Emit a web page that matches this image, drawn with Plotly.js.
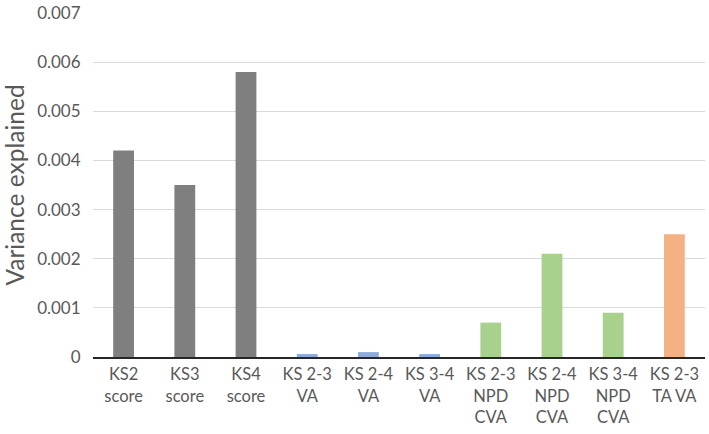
<!DOCTYPE html>
<html>
<head>
<meta charset="utf-8">
<script src="https://cdn.plot.ly/plotly-3.0.1.min.js"></script>
<style>html,body{margin:0;padding:0;background:#fff;}#chart{width:709px;height:434px;}</style>
</head>
<body>
<div id="chart"></div>
<script>
var categories = ["KS2<br>score", "KS3<br>score", "KS4<br>score", "KS 2-3<br>VA", "KS 2-4<br>VA", "KS 3-4<br>VA", "KS 2-3<br>NPD<br>CVA", "KS 2-4<br>NPD<br>CVA", "KS 3-4<br>NPD<br>CVA", "KS 2-3<br>TA VA"];
var values = [0.0042, 0.0035, 0.0058, 0.00006, 0.0001, 0.00006, 0.0007, 0.0021, 0.0009, 0.0025];
var groups = ["score", "score", "score", "VA", "VA", "VA", "CVA", "CVA", "CVA", "TA"];
var yTicks = [0, 0.001, 0.002, 0.003, 0.004, 0.005, 0.006, 0.007];
var yTickText = ["0", "0.001", "0.002", "0.003", "0.004", "0.005", "0.006", "0.007"];

var groupColors = {score: "#7f7f7f", VA: "#8eaadb", CVA: "#a9d18e", TA: "#f4b183"};

var trace = {
  type: "bar",
  x: categories,
  y: values,
  marker: {color: groups.map(function(g){return groupColors[g];})},
  hoverinfo: "x+y"
};

var layout = {
  width: 709, height: 434,
  margin: {l: 93, r: 4, t: 13, b: 77},
  paper_bgcolor: "#fff", plot_bgcolor: "#fff",
  font: {family: "Lato, 'Open Sans', sans-serif", color: "#595959", size: 17},
  bargap: 0.66,
  showlegend: false,
  xaxis: {
    type: "category",
    showgrid: false,
    showline: true, linecolor: "#262626", linewidth: 1.5,
    ticks: "outside", ticklen: 2, tickcolor: "rgba(0,0,0,0)",
    tickfont: {size: 16.5, color: "#595959"},
    fixedrange: true
  },
  yaxis: {
    range: [0, 0.007],
    tickvals: yTicks, ticktext: yTickText,
    showgrid: true, gridcolor: "#d9d9d9", gridwidth: 1,
    zeroline: false, showline: false,
    ticks: "outside", ticklen: 8, tickcolor: "rgba(0,0,0,0)",
    tickfont: {size: 17, color: "#595959"},
    title: {text: "Variance explained", font: {size: 24.5, color: "#595959"}, standoff: 10},
    fixedrange: true
  }
};

Plotly.newPlot("chart", [trace], layout, {displayModeBar: false, staticPlot: true});
</script>
</body>
</html>
